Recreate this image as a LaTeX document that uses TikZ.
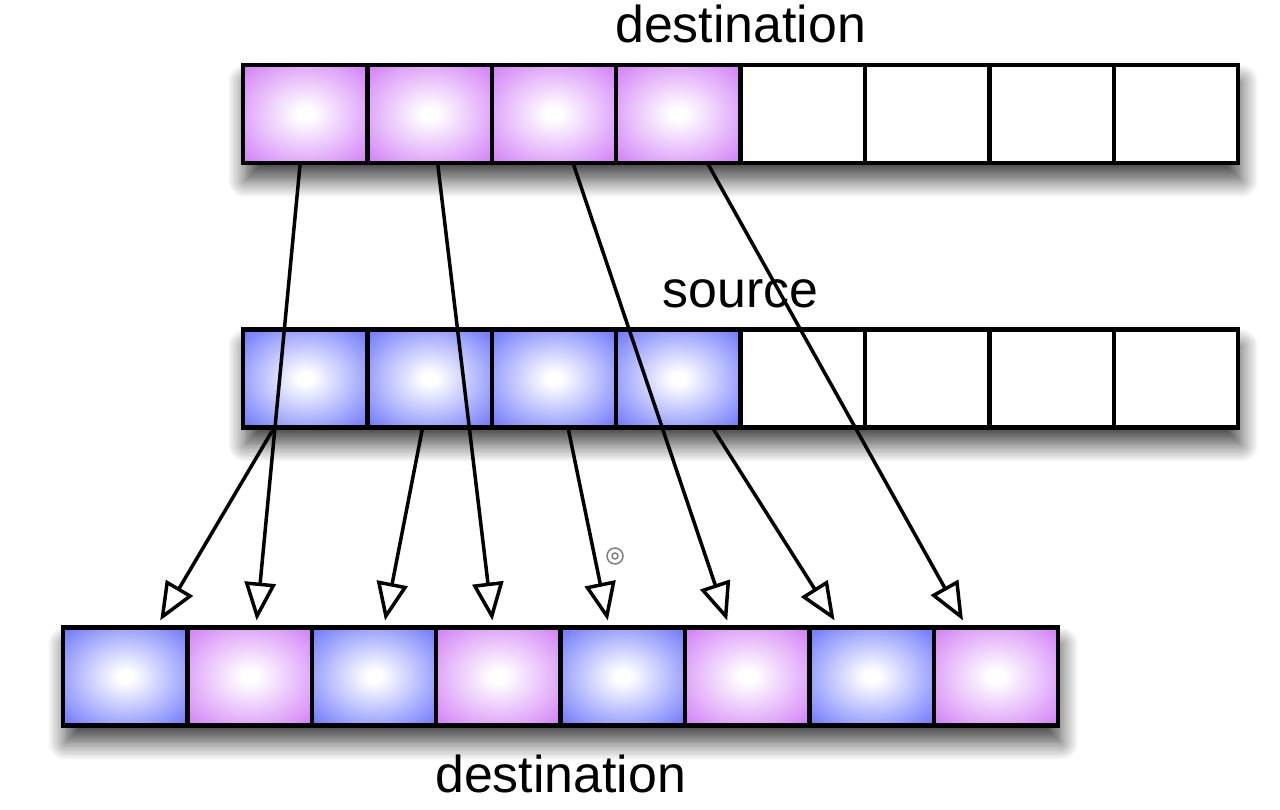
\documentclass[tikz,border=0pt]{standalone}
\usepackage{fontspec}
\setmainfont{Liberation Sans}
\usetikzlibrary{positioning,arrows.meta,backgrounds,shadows.blur}

\definecolor{pinkcell}{RGB}{208,122,246}
\definecolor{bluecell}{RGB}{104,114,250}
\pgfdeclareradialshading{pinkglow}{\pgfpoint{0bp}{0bp}}{color(0bp)=(white); color(3bp)=(white); color(36bp)=(pinkcell); color(72bp)=(pinkcell)}
\pgfdeclareradialshading{blueglow}{\pgfpoint{0bp}{0bp}}{color(0bp)=(white); color(3bp)=(white); color(36bp)=(bluecell); color(72bp)=(bluecell)}

\begin{document}
\begin{tikzpicture}[node distance=2.488cm,on grid,
  cell/.style={draw,line width=0.085cm,minimum width=2.488cm,minimum height=1.96cm,inner sep=0pt,outer sep=0pt},
  pinkbox/.style={cell,shading=pinkglow},
  bluebox/.style={cell,shading=blueglow},
  emptybox/.style={cell,fill=white},
  caption/.style={anchor=base,font=\fontsize{29.5}{35}\selectfont},
  rowshade/.style={fill=white,blur shadow={shadow xshift=0.05cm,shadow yshift=-0.34cm,shadow blur radius=0.36cm,shadow blur steps=14,shadow opacity=75}},
  feed/.style={-{Triangle[open,length=0.76cm,width=0.62cm]},line width=0.07cm}]
\useasboundingbox (0,0) rectangle (25.6,16.2);

% destination row
\node[pinkbox] (t0) at (6.104,13.92) {};
\node[pinkbox] (t1) [right=of t0] {};
\node[pinkbox] (t2) [right=of t1] {};
\node[pinkbox] (t3) [right=of t2] {};
\node[emptybox] (t4) [right=of t3] {};
\node[emptybox] (t5) [right=of t4] {};
\node[emptybox] (t6) [right=of t5] {};
\node[emptybox] (t7) [right=of t6] {};

% source row
\node[bluebox] (m0) at (6.104,8.63) {};
\node[bluebox] (m1) [right=of m0] {};
\node[bluebox] (m2) [right=of m1] {};
\node[bluebox] (m3) [right=of m2] {};
\node[emptybox] (m4) [right=of m3] {};
\node[emptybox] (m5) [right=of m4] {};
\node[emptybox] (m6) [right=of m5] {};
\node[emptybox] (m7) [right=of m6] {};

% interleaved row
\node[bluebox] (b0) at (2.504,2.67) {};
\node[pinkbox] (b1) [right=of b0] {};
\node[bluebox] (b2) [right=of b1] {};
\node[pinkbox] (b3) [right=of b2] {};
\node[bluebox] (b4) [right=of b3] {};
\node[pinkbox] (b5) [right=of b4] {};
\node[bluebox] (b6) [right=of b5] {};
\node[pinkbox] (b7) [right=of b6] {};

\node[caption] (dsttop) at ([yshift=0.44cm]t3.north east) {destination};
\node[caption] (src) at ([yshift=0.44cm]m3.north east) {source};
\node[caption] (dstbot) at ([yshift=-1.34cm]b3.south east) {destination};

\begin{scope}[on background layer]
\path[rowshade] (t0.south west) rectangle (t7.north east);
\path[rowshade] (m0.south west) rectangle (m7.north east);
\path[rowshade] (b0.south west) rectangle (b7.north east);
\end{scope}

\path[feed]
([xshift=-0.10cm]t0.south) edge ([xshift=0.14cm,yshift=0.14cm]b1.north)
([xshift=0.16cm]t1.south) edge ([xshift=-0.12cm,yshift=0.14cm]b3.north)
([xshift=0.38cm]t2.south) edge ([xshift=-0.40cm,yshift=0.14cm]b5.north)
([xshift=0.58cm]t3.south) edge ([xshift=-0.66cm,yshift=0.14cm]b7.north)
([xshift=-0.62cm]m0.south) edge ([xshift=0.70cm,yshift=0.14cm]b0.north)
([xshift=-0.14cm]m1.south) edge ([xshift=0.22cm,yshift=0.14cm]b2.north)
([xshift=0.28cm]m2.south) edge ([xshift=-0.30cm,yshift=0.14cm]b4.north)
([xshift=0.68cm]m3.south) edge ([xshift=-0.74cm,yshift=0.14cm]b6.north)
;

% pointer mark
\draw[gray,line width=0.03cm] (12.3,5.08) circle (0.16cm);
\draw[gray,line width=0.03cm] (12.3,5.08) circle (0.06cm);
\end{tikzpicture}
\end{document}
